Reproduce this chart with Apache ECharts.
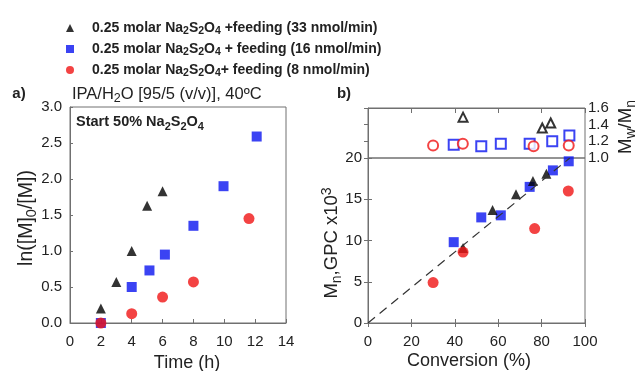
<!DOCTYPE html>
<html><head><meta charset="utf-8">
<script src="https://cdn.jsdelivr.net/npm/echarts@6/dist/echarts.min.js"></script>
<style>html,body{margin:0;padding:0;background:#fff}#c{width:636px;height:371px}</style>
</head><body><div id="c"></div>
<script>
const FONT = '"Liberation Sans", Arial, sans-serif';
const seriesNames = [
  '0.25 molar Na2S2O4 +feeding (33 nmol/min)',
  '0.25 molar Na2S2O4 + feeding (16 nmol/min)',
  '0.25 molar Na2S2O4+ feeding (8 nmol/min)'
];
const legendRich = [
  '{sp| }0.25 molar Na{s|2}S{s|2}O{s|4} +feeding (33 nmol/min)',
  '{sp| }0.25 molar Na{s|2}S{s|2}O{s|4} + feeding (16 nmol/min)',
  '{sp| }0.25 molar Na{s|2}S{s|2}O{s|4}+ feeding (8 nmol/min)'
];
// Panel a: ln([M]0/[M]) vs time
const timeTicks = [0, 14, 2];
const lnTicks = [0, 3, 0.5];
const timeTri = [2, 3, 4, 5, 6];
const lnTri = [0.2, 0.57, 1.0, 1.63, 1.83];
const timeSq = [2, 4, 5.15, 6.15, 8, 9.95, 12.1];
const lnSq = [0, 0.5, 0.73, 0.95, 1.35, 1.9, 2.59];
const timeCir = [2, 4, 6, 8, 11.6];
const lnCir = [0, 0.13, 0.36, 0.57, 1.45];
// Panel b bottom: Mn (x10^3) vs conversion
const convTri = [43.8, 57.4, 68.2, 76.0, 82.2];
const mnTri = [9.1, 13.7, 15.6, 17.2, 18.1];
const convSq = [39.5, 52.2, 61.2, 74.5, 85.2, 92.5];
const mnSq = [9.8, 12.8, 13.05, 16.5, 18.5, 19.6];
const convCir = [30.0, 43.8, 76.8, 92.3];
const mnCir = [4.9, 8.6, 11.45, 16.0];
const theoConv = [0, 93];
const theoMn = [0, 20];
// Panel b top: Mw/Mn vs conversion
const convTriD = [43.8, 80.3, 84.2];
const pdiTri = [1.49, 1.36, 1.42];
const convSqD = [39.5, 52.2, 61.2, 74.5, 84.9, 92.8];
const pdiSq = [1.16, 1.14, 1.17, 1.17, 1.2, 1.27];
const convCirD = [30.0, 43.7, 76.3, 92.5];
const pdiCir = [1.15, 1.17, 1.14, 1.15];

const zip = (a, b) => a.map((v, i) => [v, b[i]]);
const BLACK = '#000000', BLUE = '#0a14f0', RED = '#f01414';
const AX = '#707070';
const TXT = '#222222';
const lbl = (sz, margin, fmt, show = true) => ({show, fontSize: sz, fontFamily: FONT, fontWeight: 'normal', color: TXT, margin, formatter: fmt});
const axLine = {lineStyle: {color: AX, width: 1}};
const tickIn = (len) => ({show: true, inside: true, length: len, lineStyle: {color: AX}});

const chart = echarts.init(document.getElementById('c'), null, {renderer: 'canvas'});
const sub = (fs, bold) => ({fontSize: fs, fontFamily: FONT, fontWeight: bold ? 'bold' : 'normal', verticalAlign: 'bottom', lineHeight: fs, fill: TXT, color: TXT});
const sup = (fs) => ({fontSize: fs, fontFamily: FONT, fontWeight: 'normal', verticalAlign: 'top', lineHeight: fs, color: TXT, fill: TXT});
const txt = (x, y, text, fs, bold, rot, rich, align) => ({
  type: 'text', x, y, rotation: rot || 0, silent: true,
  style: {text, fontSize: fs, fontFamily: FONT, fontWeight: bold ? 'bold' : 'normal', fill: TXT,
    textAlign: align || 'center', textVerticalAlign: 'middle', align: align || 'center', verticalAlign: 'middle',
    lineHeight: fs + 6, rich: rich || {}}
});

chart.setOption({
  animation: false,
  backgroundColor: '#ffffff',
  legend: {
    orient: 'vertical', left: 61, top: 14, itemWidth: 8, itemHeight: 8, itemGap: 3,
    selectedMode: false,
    data: [{name: seriesNames[0], icon: 'triangle'}, {name: seriesNames[1], icon: 'rect'}, {name: seriesNames[2], icon: 'circle'}],
    formatter: (n) => legendRich[seriesNames.indexOf(n)],
    textStyle: {fontSize: 14, fontWeight: 'bold', fontFamily: FONT, color: TXT, lineHeight: 18,
      rich: {sp: {width: 13, fontSize: 14}, s: sub(10.5, true)}}
  },
  grid: [
    {left: 70, top: 107, width: 216, height: 216, show: true, borderColor: AX, borderWidth: 1},
    {left: 368, top: 158, width: 217, height: 165, show: true, borderColor: AX, borderWidth: 1},
    {left: 368, top: 108, width: 217, height: 50, show: true, borderColor: AX, borderWidth: 1}
  ],
  xAxis: [
    {gridIndex: 0, type: 'value', min: timeTicks[0], max: timeTicks[1], interval: timeTicks[2],
      axisLine: axLine, axisTick: tickIn(4), splitLine: {show: false}, axisLabel: lbl(15, 11)},
    {gridIndex: 1, type: 'value', min: 0, max: 100, interval: 20,
      axisLine: axLine, axisTick: tickIn(4), splitLine: {show: false}, axisLabel: lbl(15, 11)},
    {gridIndex: 2, type: 'value', min: 0, max: 100, interval: 20, position: 'top',
      axisLine: axLine, axisTick: tickIn(5), splitLine: {show: false}, axisLabel: {show: false}},
    {gridIndex: 1, type: 'value', min: 0, max: 100, interval: 20, position: 'top',
      axisLine: axLine, axisTick: tickIn(4), splitLine: {show: false}, axisLabel: {show: false}}
  ],
  yAxis: [
    {gridIndex: 0, type: 'value', min: lnTicks[0], max: lnTicks[1], interval: lnTicks[2],
      axisLine: {show: true, lineStyle: {color: AX}}, axisTick: tickIn(3), splitLine: {show: false},
      axisLabel: lbl(15, 8, v => v.toFixed(1))},
    {gridIndex: 1, type: 'value', min: 0, max: 20, interval: 5,
      axisLine: {show: true, lineStyle: {color: AX}}, axisTick: tickIn(4), splitLine: {show: false},
      axisLabel: lbl(15, 6)},
    {gridIndex: 2, type: 'value', min: 1.0, max: 1.6, interval: 0.2, position: 'right',
      axisLine: {show: true, lineStyle: {color: AX}}, axisTick: tickIn(4), splitLine: {show: false},
      axisLabel: lbl(15, 3, v => v.toFixed(1))},
    {gridIndex: 1, type: 'value', min: 0, max: 20, interval: 5, position: 'right',
      axisLine: {show: true, lineStyle: {color: AX}}, axisTick: tickIn(4), splitLine: {show: false},
      axisLabel: {show: false}}
  ],
  series: [
    {name: seriesNames[0], type: 'scatter', xAxisIndex: 0, yAxisIndex: 0, symbol: 'triangle', symbolSize: 10,
      itemStyle: {color: BLACK}, data: zip(timeTri, lnTri)},
    {name: seriesNames[1], type: 'scatter', xAxisIndex: 0, yAxisIndex: 0, symbol: 'rect', symbolSize: 10,
      itemStyle: {color: BLUE}, data: zip(timeSq, lnSq)},
    {name: seriesNames[2], type: 'scatter', xAxisIndex: 0, yAxisIndex: 0, symbol: 'circle', symbolSize: 11,
      itemStyle: {color: RED}, data: zip(timeCir, lnCir)},
    {name: 'theory', type: 'line', xAxisIndex: 1, yAxisIndex: 1, symbol: 'none', silent: true,
      lineStyle: {color: '#333', width: 1.2, type: [9, 6]}, data: zip(theoConv, theoMn)},
    {name: 'b-sq', type: 'scatter', xAxisIndex: 1, yAxisIndex: 1, symbol: 'rect', symbolSize: 10,
      itemStyle: {color: BLUE}, data: zip(convSq, mnSq)},
    {name: 'b-tri', type: 'scatter', xAxisIndex: 1, yAxisIndex: 1, symbol: 'triangle', symbolSize: 10,
      itemStyle: {color: BLACK}, data: zip(convTri, mnTri)},
    {name: 'b-cir', type: 'scatter', xAxisIndex: 1, yAxisIndex: 1, symbol: 'circle', symbolSize: 11,
      itemStyle: {color: RED}, data: zip(convCir, mnCir)},
    {name: 'd-tri', type: 'scatter', xAxisIndex: 2, yAxisIndex: 2, symbol: 'emptyTriangle', symbolSize: 9,
      itemStyle: {color: BLACK, borderWidth: 1.3}, data: zip(convTriD, pdiTri)},
    {name: 'd-sq', type: 'scatter', xAxisIndex: 2, yAxisIndex: 2, symbol: 'emptyRect', symbolSize: 10,
      itemStyle: {color: BLUE, borderWidth: 1.5}, data: zip(convSqD, pdiSq)},
    {name: 'd-cir', type: 'scatter', xAxisIndex: 2, yAxisIndex: 2, symbol: 'emptyCircle', symbolSize: 10,
      itemStyle: {color: RED, borderWidth: 1.5}, data: zip(convCirD, pdiCir)}
  ],
  graphic: [
    txt(19, 94, 'a)', 15, true),
    txt(344, 94, 'b)', 15, true),
    txt(72, 94, 'IPA/H{s|2}O [95/5 (v/v)], 40ºC', 16.5, false, 0, {s: sub(12.5, false)}, 'left'),
    txt(76, 122, 'Start 50% Na{s|2}S{s|2}O{s|4}', 14.5, true, 0, {s: sub(11, true)}, 'left'),
    txt(27, 218, 'ln([M]{s|0}/[M])', 19.5, false, Math.PI / 2, {s: sub(14.5, false)}),
    txt(187, 363, 'Time (h)', 18, false),
    txt(469, 361, 'Conversion (%)', 18, false),
    txt(332, 243, 'M{s|n},GPC x10{p|3}', 18.5, false, Math.PI / 2, {s: sub(14, false), p: sup(14)}),
    txt(626, 127, 'M{s|w}/M{s|n}', 18.5, false, Math.PI / 2, {s: sub(14, false)})
  ]
});
</script>
</body></html>
